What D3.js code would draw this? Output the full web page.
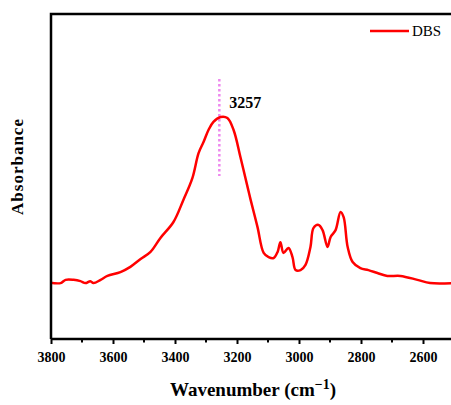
<!DOCTYPE html>
<html>
<head>
<meta charset="utf-8">
<script src="https://cdn.jsdelivr.net/npm/d3@7"></script>
<style>
  body { margin: 0; background: #fff; }
  svg { display: block; }
  svg text { font-family: "Liberation Serif", "Times New Roman", serif; }
</style>
</head>
<body>
<script>
// spectrum (wavenumber cm-1, absorbance a.u.)
const wavenumbers = [3800, 3795, 3769, 3753, 3727, 3705, 3689, 3673, 3663, 3640, 3618, 3576, 3544, 3511, 3479, 3447, 3405, 3373, 3344, 3324, 3308, 3292, 3276, 3253, 3231, 3211, 3189, 3166, 3156, 3134, 3114, 3098, 3082, 3069, 3060, 3050, 3034, 3021, 3011, 2995, 2979, 2963, 2953, 2937, 2924, 2908, 2898, 2882, 2866, 2856, 2843, 2827, 2802, 2776, 2747, 2715, 2673, 2618, 2577, 2500];
const absorbance = [0.172, 0.172, 0.172, 0.182, 0.182, 0.178, 0.172, 0.178, 0.172, 0.182, 0.194, 0.206, 0.222, 0.246, 0.268, 0.311, 0.360, 0.428, 0.495, 0.572, 0.606, 0.643, 0.668, 0.683, 0.680, 0.643, 0.560, 0.468, 0.428, 0.345, 0.265, 0.252, 0.249, 0.268, 0.298, 0.265, 0.280, 0.252, 0.212, 0.212, 0.228, 0.283, 0.342, 0.351, 0.335, 0.283, 0.314, 0.335, 0.391, 0.375, 0.283, 0.237, 0.218, 0.212, 0.203, 0.194, 0.194, 0.182, 0.172, 0.172];
const xTicks = [3800, 3600, 3400, 3200, 3000, 2800, 2600];
const xMinorTicks = [3700, 3500, 3300, 3100, 2900, 2700];
const seriesName = "DBS";
const peakMark = 3257;

const width = 451, height = 405;
const margin = {top: 14, bottom: 66, left: 51};

const svg = d3.select("body").append("svg")
  .attr("width", width)
  .attr("height", height);

const x = d3.scaleLinear()
  .domain([3800, 2600])
  .range([margin.left, margin.left + 1200 * 0.31]);

const y = d3.scaleLinear()
  .domain([0, 1])
  .range([height - margin.bottom, margin.top]);

const data = wavenumbers.map((w, i) => ({w: w, a: absorbance[i]}));

const x0 = x(3800), yb = y(0), yt = y(1);

// clip so the curve stays inside the frame
svg.append("clipPath").attr("id", "clip")
  .append("rect").attr("x", x0).attr("y", yt).attr("width", width - x0).attr("height", yb - yt);

// peak marker
svg.append("line")
  .attr("x1", x(peakMark)).attr("x2", x(peakMark))
  .attr("y1", 79).attr("y2", 176)
  .attr("stroke", "#ee88ee")
  .attr("stroke-width", 2.5)
  .attr("stroke-dasharray", "2.5,2.5");

svg.append("text")
  .attr("x", x(peakMark) + 10)
  .attr("y", 108)
  .attr("font-size", 16)
  .attr("font-weight", "bold")
  .text(peakMark);

// spectrum
const line = d3.line()
  .x(d => x(d.w))
  .y(d => y(d.a))
  .curve(d3.curveCatmullRom.alpha(0.5));

svg.append("path")
  .datum(data)
  .attr("clip-path", "url(#clip)")
  .attr("fill", "none")
  .attr("stroke", "#ff0000")
  .attr("stroke-width", 2.5)
  .attr("stroke-linejoin", "round")
  .attr("d", line);

// frame: top and left
svg.append("path")
  .attr("d", `M${width + 2},${yt}H${x0}V${yb}`)
  .attr("fill", "none")
  .attr("stroke", "#000")
  .attr("stroke-width", 2.5);

// bottom axis
const xAxis = svg.append("g")
  .attr("transform", `translate(0,${yb})`)
  .call(d3.axisBottom(x).tickValues(xTicks).tickSize(5).tickPadding(8).tickFormat(d3.format("d")));

xAxis.attr("font-family", null);
xAxis.select(".domain").attr("d", `M${x0},0H${width + 2}`).attr("stroke-width", 2.5);
xAxis.selectAll(".tick line").attr("stroke-width", 2);
xAxis.selectAll(".tick text")
  .attr("font-size", 14)
  .attr("font-weight", "bold")
  .attr("fill", "#000");

xAxis.selectAll(".minor")
  .data(xMinorTicks)
  .enter().append("line")
  .attr("x1", d => x(d)).attr("x2", d => x(d))
  .attr("y1", 0).attr("y2", 3.5)
  .attr("stroke", "#000")
  .attr("stroke-width", 2);

// axis titles
const xTitle = svg.append("text")
  .attr("x", 253)
  .attr("y", 396)
  .attr("text-anchor", "middle")
  .attr("font-size", 19)
  .attr("font-weight", "bold");
xTitle.append("tspan").text("Wavenumber (cm");
xTitle.append("tspan").attr("dy", -7).attr("font-size", 14).text("\u22121");
xTitle.append("tspan").attr("dy", 7).text(")");

svg.append("text")
  .attr("transform", `translate(23,${(yt + yb) / 2 - 10}) rotate(-90)`)
  .attr("text-anchor", "middle")
  .attr("font-size", 17)
  .attr("font-weight", "bold")
  .attr("letter-spacing", 1)
  .text("Absorbance");

// legend
svg.append("line")
  .attr("x1", 370).attr("x2", 409)
  .attr("y1", 31).attr("y2", 31)
  .attr("stroke", "#ff0000")
  .attr("stroke-width", 2.5);

svg.append("text")
  .attr("x", 412)
  .attr("y", 36)
  .attr("font-size", 15)
  .text(seriesName);
</script>
</body>
</html>
